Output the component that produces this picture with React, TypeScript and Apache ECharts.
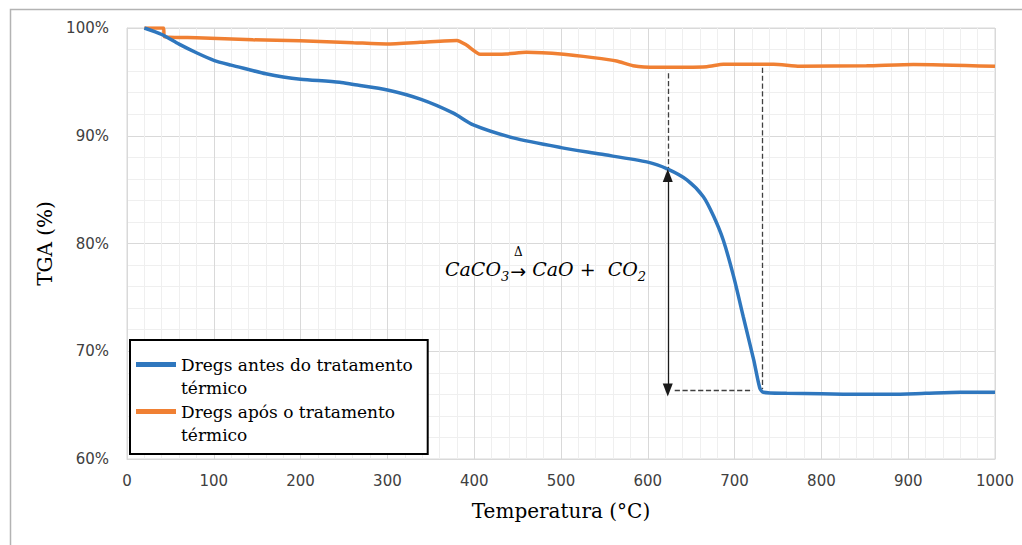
import React, { useEffect, useRef } from 'react';
import * as echarts from 'echarts';

// ---- Data ----
const blueT = [20, 40, 60, 80, 100, 120, 140, 160, 180, 200, 245, 261, 300, 338, 376, 399, 445, 500, 545, 600, 623, 645, 664, 676, 687, 699, 710, 722, 729, 733, 760, 800, 850, 880, 920, 960, 1000];
const blueV = [100, 99.4, 98.5, 97.7, 97.0, 96.55, 96.15, 95.75, 95.45, 95.25, 94.96, 94.75, 94.25, 93.4, 92.1, 91.0, 89.8, 88.9, 88.3, 87.55, 86.9, 85.9, 84.34, 82.5, 80.3, 76.9, 73.2, 69.2, 66.6, 66.2, 66.1, 66.05, 66.0, 66.0, 66.1, 66.2, 66.2];

const orangeT = [20, 42, 43, 80, 145, 199, 261, 299, 338, 380, 391, 407, 437, 460, 503, 537, 564, 583, 610, 668, 687, 745, 775, 852, 906, 1000];
const orangeV = [100, 100, 99.2, 99.1, 98.9, 98.82, 98.64, 98.52, 98.67, 98.85, 98.42, 97.56, 97.59, 97.74, 97.56, 97.25, 96.94, 96.5, 96.35, 96.41, 96.63, 96.63, 96.45, 96.5, 96.62, 96.45];

const seriesNames = ['Dregs antes do tratamento\ntérmico', 'Dregs após o tratamento\ntérmico'];
const seriesColors = ['#2F77BE', '#F08033'];
const xTitle = 'Temperatura (°C)';
const yTitle = 'TGA (%)';
const xMin = 0, xMax = 1000, xStep = 100;
const yMin = 60, yMax = 100, yStep = 10;

// annotation (data coordinates)
const arrowLine = [[623, 86.3], [623, 66.4]];
const dashedV1 = [[623, 95.8], [623, 87.0]];
const dashedV2 = [[732, 96.3], [732, 66.5]];
const dashedH = [[631, 66.34], [721, 66.34]];

const legendIcon = 'path://M0,0H0.05V0.05H0Z M0,9H40V14H0Z M39.95,45.95H40V46H39.95Z';

export default function App() {
  const ref = useRef<HTMLDivElement>(null);
  useEffect(() => {
    document.body.style.margin = '0';
    const chart = echarts.init(ref.current!, undefined, { renderer: 'svg' });
    const zip = (t: number[], v: number[]) => t.map((x, i) => [x, v[i]]);
    const dashStyle = { type: 'dashed', color: '#404040', width: 1.3 };
    chart.setOption({
      animation: false,
      backgroundColor: '#fff',
      textStyle: { fontFamily: 'DejaVu Sans' },
      grid: { left: 127, right: 27, top: 28, bottom: 86, show: true, borderColor: '#d9d9d9', borderWidth: 1 },
      xAxis: {
        type: 'value', min: xMin, max: xMax, interval: xStep,
        name: xTitle, nameLocation: 'middle', nameGap: 42,
        nameTextStyle: { fontFamily: 'DejaVu Serif', fontSize: 20, color: '#000' },
        axisLine: { lineStyle: { color: '#d9d9d9' } },
        axisTick: { show: false },
        axisLabel: { color: '#404040', fontSize: 15, margin: 14, fontFamily: 'DejaVu Sans', formatter: (v: number) => String(v) },
        splitLine: { show: true, lineStyle: { color: '#d9d9d9' } },
        minorTick: { show: false, splitNumber: 5 },
        minorSplitLine: { show: true, lineStyle: { color: '#efefef' } },
      },
      yAxis: {
        type: 'value', min: yMin, max: yMax, interval: yStep,
        name: yTitle, nameLocation: 'middle', nameGap: 69,
        nameTextStyle: { fontFamily: 'DejaVu Serif', fontSize: 20, color: '#000' },
        axisLine: { show: true, lineStyle: { color: '#d9d9d9' } },
        axisTick: { show: false },
        axisLabel: { color: '#404040', fontSize: 15, margin: 18, formatter: '{value}%', fontFamily: 'DejaVu Sans' },
        splitLine: { show: true, lineStyle: { color: '#d9d9d9' } },
        minorTick: { show: false, splitNumber: 5 },
        minorSplitLine: { show: true, lineStyle: { color: '#efefef' } },
      },
      legend: {
        left: 130, top: 340, orient: 'vertical',
        backgroundColor: '#fff', borderColor: '#000', borderWidth: 2,
        padding: [13, 15, 8, 6],
        itemWidth: 40, itemHeight: 46, itemGap: 1,
        icon: legendIcon,
        textStyle: { fontFamily: 'DejaVu Serif', fontSize: 17, color: '#000', lineHeight: 23 },
        data: seriesNames.map((n, i) => ({ name: n, itemStyle: { color: seriesColors[i] } })),
      },
      series: [
        {
          name: seriesNames[0], type: 'line', showSymbol: false, smooth: 0.25,
          data: zip(blueT, blueV), color: seriesColors[0],
          lineStyle: { width: 3.5, color: seriesColors[0] },
          markLine: {
            silent: true, symbol: 'none', animation: false, label: { show: false },
            lineStyle: dashStyle,
            data: [
              [{ coord: dashedV1[0] }, { coord: dashedV1[1] }],
              [{ coord: dashedV2[0] }, { coord: dashedV2[1] }],
              [{ coord: dashedH[0] }, { coord: dashedH[1] }],
              [
                { coord: arrowLine[0], symbol: 'triangle', symbolSize: [10, 13], symbolRotate: 0, lineStyle: { type: 'solid', color: '#1a1a1a', width: 1.3 } },
                { coord: arrowLine[1], symbol: 'triangle', symbolSize: [10, 13], symbolRotate: 180 },
              ],
            ],
          },
          z: 3,
        },
        {
          name: seriesNames[1], type: 'line', showSymbol: false, smooth: 0.2,
          data: zip(orangeT, orangeV), color: seriesColors[1],
          lineStyle: { width: 3.5, color: seriesColors[1] },
          z: 2,
        },
      ],
      graphic: [
        { type: 'rect', left: 8, top: 7, shape: { x: 0, y: 0, width: 1100, height: 600 }, style: { fill: 'none', stroke: '#b3b3b3', lineWidth: 1.5 }, silent: true, z: -10 },
        {
          type: 'text', x: 445, y: 269, z: 20,
          style: {
            text: '{m|CaCO}{s|3}{a|→}{m| CaO +  CO}{s|2}',
            verticalAlign: 'middle', fill: '#000',
            rich: {
              m: { fontFamily: 'DejaVu Serif', fontStyle: 'italic', fontSize: 19, fill: '#000' },
              s: { fontFamily: 'DejaVu Serif', fontStyle: 'italic', fontSize: 13, padding: [14, 1, 0, 0], fill: '#000' },
              a: { fontFamily: 'DejaVu Sans', fontSize: 19, padding: [4, 0, 0, 0], fill: '#000' },
            },
          },
        },
        { type: 'text', x: 514, y: 252, z: 20, style: { text: 'Δ', fontFamily: 'DejaVu Serif', fontSize: 12, fill: '#000', verticalAlign: 'middle' } },
      ],
    });
    return () => chart.dispose();
  }, []);
  return <div ref={ref} style={{ width: 1022, height: 545, position: 'absolute', left: 0, top: 0 }} />;
}
